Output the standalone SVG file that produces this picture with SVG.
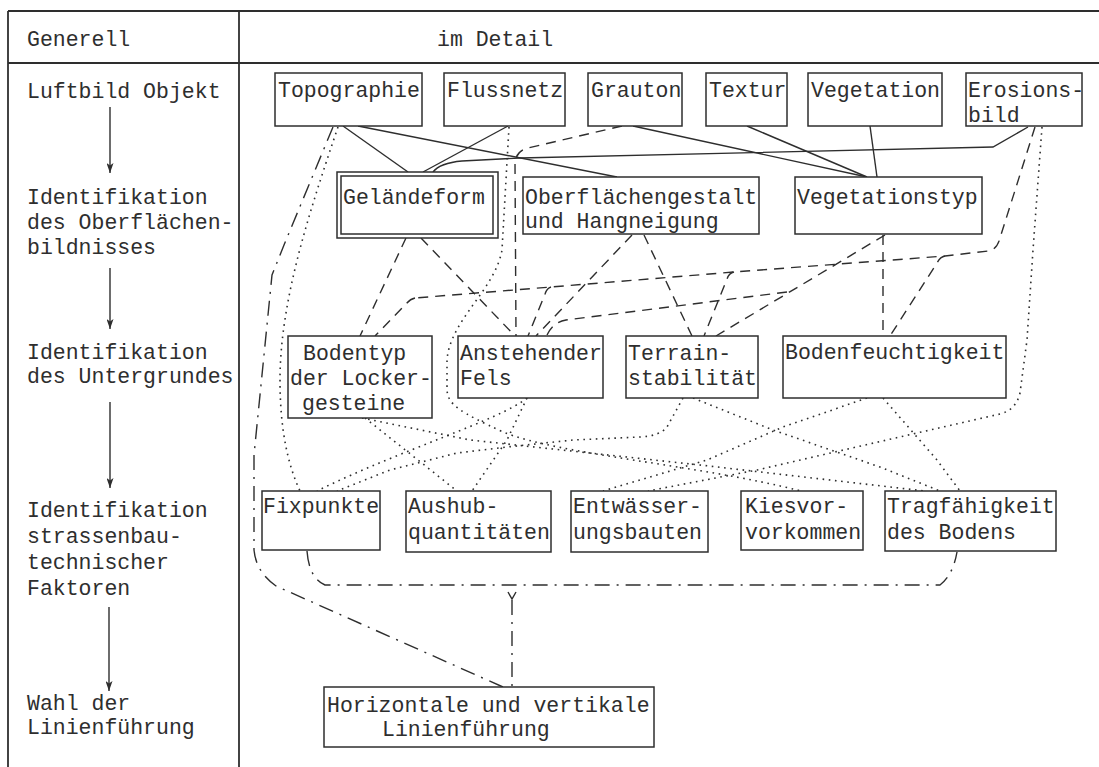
<svg xmlns="http://www.w3.org/2000/svg" width="1099" height="767" viewBox="0 0 1099 767">
<style>
  text { font-family: "Liberation Mono", "DejaVu Sans Mono", monospace; font-size: 21.5px; fill: #2e2e2e; }
  .box { fill: #fff; stroke: #2e2e2e; stroke-width: 1.5; }
  .frame { stroke: #2e2e2e; stroke-width: 1.8; fill: none; }
  .solid { stroke: #2e2e2e; stroke-width: 1.4; fill: none; }
  .dash { stroke: #2e2e2e; stroke-width: 1.4; fill: none; stroke-dasharray: 10 7; }
  .dot { stroke: #2e2e2e; stroke-width: 1.6; fill: none; stroke-dasharray: 1.6 4.6; }
  .dashdot { stroke: #2e2e2e; stroke-width: 1.4; fill: none; stroke-dasharray: 15 7 2 7; }
  .arrow { stroke: #2e2e2e; stroke-width: 1.4; fill: none; marker-end: url(#ah); }
</style>
<defs>
  <marker id="ah" viewBox="0 0 10 7" refX="10" refY="3.5" markerWidth="10" markerHeight="7" markerUnits="userSpaceOnUse" orient="auto">
    <path d="M0,0 L10,3.5 L0,7 L2.5,3.5 z" fill="#2e2e2e"/>
  </marker>
</defs>
<rect x="0" y="0" width="1099" height="767" fill="#fff"/>

<g id="frame">
  <line class="frame" x1="8" y1="11" x2="1099" y2="11"/>
  <line class="frame" x1="8" y1="63" x2="1099" y2="63" stroke-width="2.2"/>
  <line class="frame" x1="8" y1="11" x2="8" y2="767"/>
  <line class="frame" x1="239" y1="11" x2="239" y2="767"/>
  <text x="27" y="46">Generell</text>
  <text x="437" y="46">im Detail</text>
</g>

<g id="general-column">
  <text x="27" y="98">Luftbild Objekt</text>
  <line class="arrow" x1="110" y1="107" x2="110" y2="173"/>
  <text x="27" y="204">Identifikation</text>
  <text x="27" y="229">des Oberflächen-</text>
  <text x="27" y="254">bildnisses</text>
  <line class="arrow" x1="110" y1="268" x2="110" y2="329"/>
  <text x="27" y="359">Identifikation</text>
  <text x="27" y="383">des Untergrundes</text>
  <line class="arrow" x1="110" y1="402" x2="110" y2="488"/>
  <text x="27" y="517">Identifikation</text>
  <text x="27" y="543">strassenbau-</text>
  <text x="27" y="569">technischer</text>
  <text x="27" y="595">Faktoren</text>
  <line class="arrow" x1="109" y1="607" x2="109" y2="691"/>
  <text x="27" y="710">Wahl der</text>
  <text x="27" y="734">Linienführung</text>
</g>

<g id="connectors">
  <!-- solid -->
  <path class="solid" d="M343,126 L408,172"/>
  <path class="solid" d="M358,126 L617,177"/>
  <path class="solid" d="M508,126 L423,172"/>
  <path class="solid" d="M1028,127 L993,147 L520,158 L462,161 Q440,163 433,172"/>
  <path class="solid" d="M633,126 L867,177"/>
  <path class="solid" d="M747,126 L867,177"/>
  <path class="solid" d="M870,126 L877,177"/>
  <!-- dashed -->
  <path class="dash" d="M406,238 L360,336"/>
  <path class="dash" d="M421,238 L515,336"/>
  <path class="dash" d="M622,126 L528,148 Q516,151 515,163 L516,336"/>
  <path class="dash" d="M632,235 L536,336"/>
  <path class="dash" d="M644,235 L692,336"/>
  <path class="dash" d="M885,235 L716,336"/>
  <path class="dash" d="M787,292 L566,320 Q553,322 547,335"/>
  <path class="dash" d="M883,235 L883,336"/>
  <path class="dash" d="M1035,127 L1000,238 Q997,250 988,251 L945,256 L734,272 L551,287 L415,298"/>
  <path class="dash" d="M945,256 Q940,257 937,263 L890,336"/>
  <path class="dash" d="M734,272 Q729,273 727,279 L704,336"/>
  <path class="dash" d="M551,287 Q547,288 545,294 L528,336"/>
  <path class="dash" d="M415,298 Q410,299 406,304 L375,336"/>
  <!-- dotted -->
  <path class="dot" d="M338,127 C310,210 280,300 280,380 C280,430 288,465 300,491"/>
  <path class="dot" d="M509,127 L502,250 C495,290 450,320 447,360 L447,390 C448,405 460,412 503,432 C560,455 700,465 801,491"/>
  <path class="dot" d="M1042,127 L1033,250 L1027,340 L1020,393 Q1016,410 1000,414 L917,433 L757,470 L648,491"/>
  <path class="dot" d="M365,418 L457,491"/>
  <path class="dot" d="M362,418 L470,440 L700,465 L925,491"/>
  <path class="dot" d="M527,398 C500,420 400,450 317,491"/>
  <path class="dot" d="M527,398 L507,440 L472,491"/>
  <path class="dot" d="M683,398 L667,427 Q660,436 640,437 L573,440 L507,447 L457,453 L390,470 L337,491"/>
  <path class="dot" d="M693,398 L773,430 L880,467 L940,491"/>
  <path class="dot" d="M867,398 L783,427 L707,460 L603,491"/>
  <path class="dot" d="M883,398 L937,460 L960,491"/>
  <!-- dash-dot -->
  <path class="dashdot" d="M333,127 L284,245 L272,275 L254,455 L254,550 Q256,572 276,586 L503,687"/>
  <path class="dashdot" d="M307,551 Q309,578 325,585 L940,585 Q953,575 957,552"/>
  <path class="solid" d="M508,592 L512,599 L516,592" stroke-width="1.1"/>
  <path class="dashdot" d="M512,600 L512,687"/>
</g>

<g id="n-topographie"><rect class="box" x="275" y="73" width="147" height="53"/><text x="278" y="97">Topographie</text></g>
<g id="n-flussnetz"><rect class="box" x="444" y="73" width="121" height="53"/><text x="447" y="97">Flussnetz</text></g>
<g id="n-grauton"><rect class="box" x="588" y="73" width="94" height="53"/><text x="591" y="97">Grauton</text></g>
<g id="n-textur"><rect class="box" x="706" y="73" width="81" height="53"/><text x="709" y="97">Textur</text></g>
<g id="n-vegetation"><rect class="box" x="808" y="73" width="134" height="53"/><text x="811" y="97">Vegetation</text></g>
<g id="n-erosionsbild"><rect class="box" x="966" y="73" width="116" height="53"/><text x="968" y="97">Erosions-</text><text x="968" y="122">bild</text></g>

<g id="n-gelaendeform"><rect class="box" x="337" y="172" width="161" height="66"/><rect class="box" x="341" y="176" width="152" height="58"/><text x="343" y="204">Geländeform</text></g>
<g id="n-oberflaeche"><rect class="box" x="523" y="177" width="236" height="57"/><text x="525" y="204">Oberflächengestalt</text><text x="525" y="228">und Hangneigung</text></g>
<g id="n-vegetationstyp"><rect class="box" x="795" y="177" width="187" height="57"/><text x="797" y="204">Vegetationstyp</text></g>

<g id="n-bodentyp"><rect class="box" x="288" y="336" width="144" height="82"/><text x="303" y="360">Bodentyp</text><text x="290" y="385">der Locker-</text><text x="302" y="410">gesteine</text></g>
<g id="n-anstehender"><rect class="box" x="458" y="336" width="145" height="62"/><text x="460" y="360">Anstehender</text><text x="460" y="385">Fels</text></g>
<g id="n-terrain"><rect class="box" x="626" y="336" width="132" height="62"/><text x="628" y="360">Terrain-</text><text x="628" y="385">stabilität</text></g>
<g id="n-bodenfeuchtigkeit"><rect class="box" x="783" y="336" width="223" height="62"/><text x="785" y="359">Bodenfeuchtigkeit</text></g>

<g id="n-fixpunkte"><rect class="box" x="262" y="491" width="118" height="59"/><text x="263" y="513">Fixpunkte</text></g>
<g id="n-aushub"><rect class="box" x="406" y="491" width="145" height="61"/><text x="408" y="513">Aushub-</text><text x="408" y="539">quantitäten</text></g>
<g id="n-entwaesserung"><rect class="box" x="571" y="491" width="137" height="61"/><text x="573" y="513">Entwässer-</text><text x="573" y="539">ungsbauten</text></g>
<g id="n-kies"><rect class="box" x="741" y="491" width="122" height="59"/><text x="745" y="513">Kiesvor-</text><text x="745" y="539">vorkommen</text></g>
<g id="n-tragfaehigkeit"><rect class="box" x="885" y="491" width="171" height="60"/><text x="887" y="513">Tragfähigkeit</text><text x="887" y="539">des Bodens</text></g>

<g id="n-linienfuehrung"><rect class="box" x="324" y="687" width="330" height="60"/><text x="327" y="712">Horizontale und vertikale</text><text x="382" y="736">Linienführung</text></g>
</svg>
